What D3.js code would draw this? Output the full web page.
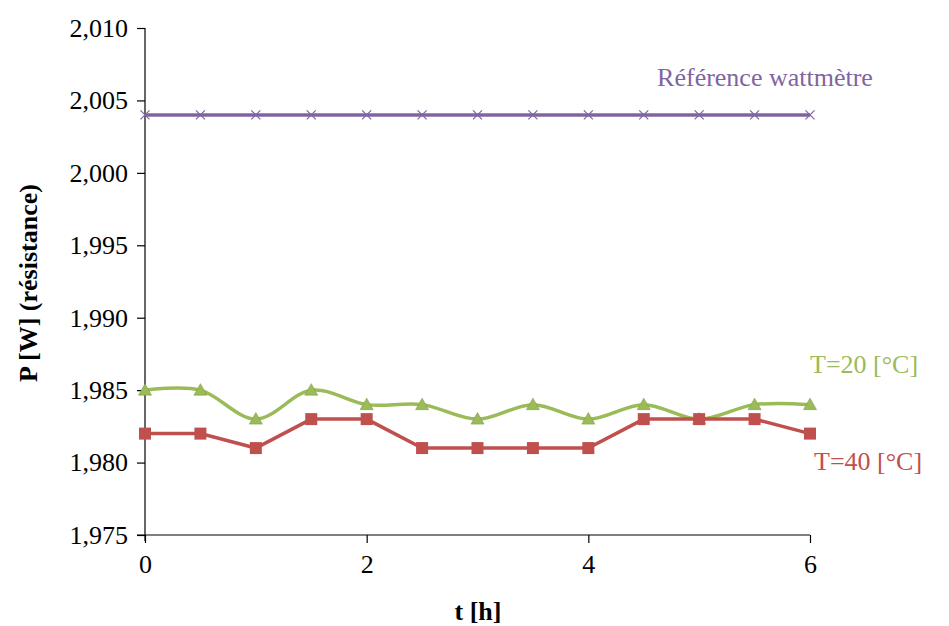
<!DOCTYPE html>
<html><head><meta charset="utf-8">
<script src="https://cdn.jsdelivr.net/npm/d3@7/dist/d3.min.js"></script>
<style>body{margin:0;background:#fff;position:relative}
.lbl{position:absolute;font-family:"Liberation Serif";font-size:26px;line-height:26px;white-space:nowrap}</style>
</head><body><svg id="c" width="949" height="626" font-family="Liberation Serif" style="display:block"></svg>
<script>
const hours = [0,0.5,1,1.5,2,2.5,3,3.5,4,4.5,5,5.5,6];
const refWatt = [2.004,2.004,2.004,2.004,2.004,2.004,2.004,2.004,2.004,2.004,2.004,2.004,2.004];
const t20 = [1.985,1.985,1.983,1.985,1.984,1.984,1.983,1.984,1.983,1.984,1.983,1.984,1.984];
const t40 = [1.982,1.982,1.981,1.983,1.983,1.981,1.981,1.981,1.981,1.983,1.983,1.983,1.982];
const seriesNames = ["Référence wattmètre","T=20 [°C]","T=40 [°C]"];
const yTicks = [1.975,1.980,1.985,1.990,1.995,2.000,2.005,2.010];
const xTicks = [0,2,4,6];

const FONT = "Liberation Serif";
const svg = d3.select("#c");
const x = d3.scaleLinear().domain([0,6]).range([145,810]);
const y = d3.scaleLinear().domain([1.975,2.010]).range([535,28]);

const fmt = d => d3.format(".3f")(d).replace(".", ",");

const ya = svg.append("g").attr("transform","translate(145,0)")
  .call(d3.axisLeft(y).tickValues(yTicks).tickSize(8).tickPadding(9).tickFormat(fmt));
ya.select(".domain").attr("d","M0,28V541");
const xa = svg.append("g").attr("transform","translate(0,535)")
  .call(d3.axisBottom(x).tickValues(xTicks).tickSize(8).tickPadding(12).tickFormat(d3.format("d")));
xa.select(".domain").attr("d","M137,0H810");
ya.attr("font-family",FONT); xa.attr("font-family",FONT);
svg.selectAll(".tick line, .domain").attr("stroke","#000").attr("stroke-width",1.2);
svg.selectAll(".tick text").style("font-family",FONT).attr("font-size",26).attr("fill","#000");
xa.selectAll(".tick text").attr("dy","0.71em");

svg.append("text").attr("transform","translate(37,283) rotate(-90)").attr("text-anchor","middle")
  .style("font-family",FONT).attr("font-size",26).attr("font-weight","bold").text("P [W] (résistance)");
svg.append("text").attr("x",478).attr("y",620).attr("text-anchor","middle")
  .style("font-family",FONT).attr("font-size",26).attr("font-weight","bold").text("t [h]");

const data = s => hours.map((h,i)=>[h,s[i]]);

const purple = "#8064A2", green = "#9BBB59", red = "#C0504D";
svg.append("path").datum(data(refWatt)).attr("fill","none").attr("stroke",purple).attr("stroke-width",3.5)
  .attr("d", d3.line().x(d=>x(d[0])).y(d=>y(d[1])));
svg.append("g").selectAll("path").data(data(refWatt)).join("path")
  .attr("transform",d=>`translate(${x(d[0])},${y(d[1])})`)
  .attr("d","M-4.5,-4.5L4.5,4.5M-4.5,4.5L4.5,-4.5").attr("stroke",purple).attr("stroke-width",1.2);

svg.append("path").datum(data(t20)).attr("fill","none").attr("stroke",green).attr("stroke-width",3.5)
  .attr("d", d3.line().curve(d3.curveCatmullRom.alpha(0)).x(d=>x(d[0])).y(d=>y(d[1])));
svg.append("g").selectAll("path").data(data(t20)).join("path")
  .attr("transform",d=>`translate(${x(d[0])},${y(d[1])})`)
  .attr("d","M0,-6.5L6.5,5L-6.5,5Z").attr("fill",green).attr("stroke","#7f9f45").attr("stroke-width",0.6);

svg.append("path").datum(data(t40)).attr("fill","none").attr("stroke",red).attr("stroke-width",3.5)
  .attr("d", d3.line().x(d=>x(d[0])).y(d=>y(d[1])));
svg.append("g").selectAll("rect").data(data(t40)).join("rect")
  .attr("x",d=>x(d[0])-6).attr("y",d=>y(d[1])-6).attr("width",12).attr("height",12).attr("fill",red);

// series labels as HTML text over the chart
const lblPos = [
  {left:765, top:65, color:purple, center:true},
  {left:810, top:352, color:green, center:false},
  {left:814, top:449, color:red, center:false}
];
d3.select("body").selectAll("div.lbl").data(seriesNames).join("div")
  .attr("class","lbl")
  .style("left",(d,i)=>lblPos[i].left+"px")
  .style("top",(d,i)=>lblPos[i].top+"px")
  .style("color",(d,i)=>lblPos[i].color)
  .style("transform",(d,i)=>lblPos[i].center?"translateX(-50%)":null)
  .text(d=>d);
</script></body></html>
